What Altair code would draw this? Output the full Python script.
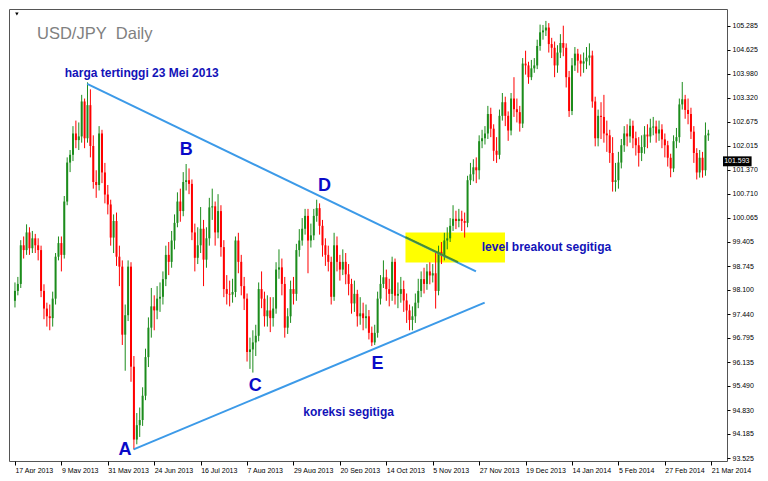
import altair as alt
import pandas as pd

# ---------------- data ----------------
date_labels = ["17 Apr 2013", "9 May 2013", "31 May 2013", "24 Jun 2013", "16 Jul 2013",
               "7 Aug 2013", "29 Aug 2013", "20 Sep 2013", "14 Oct 2013", "5 Nov 2013",
               "27 Nov 2013", "19 Dec 2013", "14 Jan 2014", "5 Feb 2014", "27 Feb 2014",
               "21 Mar 2014"]
label_step = 16

first_open = 97.80
close = [
    98.07, 98.26, 99.31, 99.18, 99.66, 99.23, 99.50, 99.31, 99.18, 98.07,
    97.59, 97.38, 97.33, 97.86, 99.00, 99.37, 99.05, 100.50, 101.56, 101.77,
    102.35, 102.17, 102.27, 103.22, 102.22, 103.12, 102.01, 101.03, 100.95, 102.35,
    101.29, 100.69, 100.42, 99.52, 99.97, 99.00, 98.73, 96.88, 97.41, 98.73,
    96.01, 94.03, 94.42, 94.56, 95.22, 96.27, 97.07, 97.65, 97.54, 97.86,
    97.91, 98.39, 99.05, 98.86, 99.44, 99.92, 100.50, 100.24, 101.03, 101.08,
    100.98, 99.66, 98.97, 99.31, 99.76, 98.92, 99.50, 100.34, 100.37, 99.66,
    100.24, 99.26, 98.12, 97.99, 97.97, 98.04, 99.44, 98.86, 98.20, 97.86,
    96.41, 96.48, 96.67, 96.85, 98.12, 97.86, 97.38, 97.54, 97.33, 97.59,
    98.65, 98.71, 98.26, 97.07, 97.38, 98.12, 97.99, 99.18, 99.44, 99.76,
    100.11, 99.44, 99.58, 100.11, 100.32, 99.84, 99.31, 99.05, 98.86, 97.91,
    99.31, 98.86, 98.65, 98.86, 98.52, 98.26, 97.73, 97.99, 97.38, 97.46,
    97.33, 97.38, 96.93, 96.67, 96.93, 97.86, 98.26, 98.44, 98.12, 97.99,
    98.86, 97.94, 97.99, 98.12, 97.81, 97.54, 97.28, 97.38, 97.75, 98.07,
    98.39, 98.26, 98.60, 98.49, 98.55, 98.07, 99.13, 99.02, 99.44, 99.50,
    99.84, 100.03, 99.97, 100.03, 99.97, 99.92, 101.08, 101.24, 101.43, 101.35,
    102.14, 102.22, 102.35, 102.88, 102.48, 101.88, 101.77, 102.83, 103.20, 102.83,
    102.43, 103.30, 103.01, 102.93, 102.62, 104.25, 104.20, 103.88, 104.12, 104.20,
    104.73, 105.10, 105.15, 105.23, 104.78, 104.68, 104.20, 104.55, 104.81, 104.68,
    103.88, 102.96, 104.20, 104.52, 104.33, 104.25, 104.31, 104.41, 104.47, 103.22,
    102.22, 102.83, 102.80, 102.35, 102.30, 101.82, 101.03, 101.08, 101.56, 102.03,
    102.35, 102.27, 102.56, 102.22, 102.03, 101.82, 101.98, 102.32, 102.27, 102.51,
    102.54, 102.35, 102.46, 102.19, 102.03, 101.69, 101.40, 102.14, 102.25, 103.14,
    103.28, 102.99, 102.88, 102.40, 101.82, 101.29, 101.69, 101.35, 102.30, 102.35,
]
high = [
    98.30, 98.45, 99.45, 99.55, 99.88, 99.80, 99.70, 99.62, 99.50, 99.30,
    98.25, 97.75, 97.70, 98.05, 99.10, 99.55, 99.55, 100.65, 101.70, 101.90,
    102.55, 102.70, 102.65, 103.40, 103.30, 103.74, 103.55, 102.30, 101.35, 102.55,
    102.45, 101.55, 100.95, 100.55, 100.15, 100.20, 99.30, 98.90, 97.70, 98.90,
    98.85, 96.30, 94.75, 94.90, 95.45, 96.50, 97.35, 98.15, 97.95, 98.20,
    98.30, 98.60, 99.30, 99.40, 99.70, 100.15, 100.75, 100.85, 101.30, 101.52,
    101.40, 101.10, 99.90, 99.80, 100.35, 100.00, 99.80, 100.60, 100.85, 100.50,
    100.70, 100.40, 99.45, 98.50, 98.35, 98.40, 99.55, 99.65, 99.05, 98.45,
    98.00, 96.80, 97.00, 97.15, 98.30, 98.60, 98.05, 97.95, 97.90, 97.90,
    98.85, 99.20, 98.95, 98.45, 97.60, 98.35, 98.45, 99.35, 99.75, 100.05,
    100.30, 100.30, 99.90, 100.30, 100.55, 100.45, 100.00, 99.50, 99.30, 99.00,
    99.65, 99.55, 99.05, 99.20, 99.10, 98.80, 98.40, 98.35, 98.10, 97.90,
    97.75, 97.70, 97.55, 97.10, 97.15, 98.05, 98.50, 98.90, 98.65, 98.40,
    99.00, 98.95, 98.30, 98.45, 98.35, 98.00, 97.70, 97.65, 98.00, 98.40,
    98.60, 98.70, 98.80, 98.85, 98.80, 99.15, 99.30, 99.40, 99.65, 99.80,
    100.05, 100.40, 100.25, 100.30, 100.25, 100.20, 101.20, 101.55, 101.65, 101.70,
    102.30, 102.45, 102.55, 103.10, 103.05, 102.60, 102.25, 103.00, 103.45, 103.35,
    102.95, 103.45, 103.88, 103.30, 103.10, 104.40, 104.60, 104.30, 104.35, 104.40,
    104.90, 105.31, 105.30, 105.41, 105.35, 104.95, 104.85, 104.75, 105.05, 105.28,
    104.80, 104.05, 104.40, 104.70, 104.65, 104.50, 104.55, 104.70, 104.80, 104.60,
    103.35, 103.00, 103.20, 103.40, 102.70, 102.45, 102.25, 101.55, 101.85, 102.20,
    102.55, 102.60, 102.75, 102.70, 102.40, 102.25, 102.30, 102.55, 102.60, 102.75,
    102.80, 102.70, 102.70, 102.60, 102.35, 102.15, 101.80, 102.30, 102.50, 103.30,
    103.75, 103.40, 103.30, 103.05, 102.55, 101.95, 101.90, 101.85, 102.65, 102.45,
]
low = [
    97.62, 97.95, 98.15, 98.95, 99.05, 99.05, 99.10, 99.10, 98.90, 97.90,
    97.30, 97.10, 97.00, 97.10, 97.70, 98.90, 98.60, 98.95, 100.40, 101.30,
    101.60, 101.95, 101.90, 102.10, 101.95, 102.10, 101.70, 100.85, 100.60, 100.80,
    101.00, 100.45, 100.15, 99.30, 99.10, 98.75, 98.20, 96.60, 95.90, 97.25,
    95.60, 93.76, 93.90, 94.10, 94.40, 95.10, 96.00, 96.80, 97.00, 97.30,
    97.50, 97.70, 98.20, 98.50, 98.70, 99.20, 99.80, 99.95, 100.10, 100.80,
    100.70, 99.45, 98.60, 98.80, 99.10, 98.20, 98.70, 99.30, 100.00, 99.30,
    99.50, 99.00, 97.90, 97.70, 97.65, 97.75, 97.90, 98.55, 97.95, 97.55,
    96.15, 95.95, 95.85, 96.30, 96.70, 97.60, 97.10, 97.10, 96.95, 97.10,
    97.45, 98.40, 97.95, 96.80, 96.90, 97.20, 97.70, 97.80, 99.00, 99.30,
    99.60, 98.55, 99.25, 99.45, 99.95, 99.60, 99.00, 98.75, 98.60, 97.70,
    97.80, 98.60, 98.35, 98.50, 98.25, 97.95, 97.45, 97.50, 97.10, 97.15,
    97.00, 97.05, 96.75, 96.57, 96.60, 96.80, 97.70, 98.15, 97.80, 97.65,
    97.80, 97.70, 97.60, 97.75, 97.50, 97.20, 97.00, 97.00, 97.20, 97.60,
    97.90, 98.00, 98.10, 98.25, 98.30, 97.59, 97.95, 98.80, 98.90, 99.20,
    99.40, 99.70, 99.75, 99.80, 99.70, 99.52, 99.80, 100.95, 101.05, 101.00,
    101.10, 101.95, 102.05, 102.20, 102.25, 101.60, 101.55, 101.65, 102.70, 102.55,
    102.15, 102.30, 102.80, 102.65, 102.40, 102.50, 103.95, 103.70, 103.80, 104.00,
    104.10, 104.60, 104.90, 105.00, 104.55, 104.40, 103.88, 104.00, 104.40, 104.45,
    103.60, 102.80, 102.85, 104.05, 104.00, 103.90, 104.00, 104.10, 104.20, 103.05,
    102.00, 102.00, 102.20, 102.10, 101.85, 101.55, 100.77, 100.77, 100.85, 101.40,
    101.85, 102.00, 102.10, 101.95, 101.75, 101.45, 101.60, 101.80, 101.95, 102.10,
    102.30, 102.10, 102.15, 101.95, 101.70, 101.45, 101.16, 101.30, 101.95, 102.10,
    103.00, 102.75, 102.60, 102.20, 101.55, 101.10, 101.15, 101.15, 101.20, 102.15,
]
y_ticks = [93.525, 94.185, 94.830, 95.490, 96.135, 96.795, 97.440, 98.100, 98.745,
           99.405, 100.065, 100.710, 101.370, 102.015, 102.675, 103.320, 103.980,
           104.625, 105.285]

# triangle trend lines (bar index, price)
tl_x1 = [24.9, 40.9]
tl_y1 = [103.70, 93.76]
tl_x2 = [158.9, 161.9]
tl_y2 = [98.60, 97.75]
# part of upper line inside the yellow box
seg_x1 = [134.6]
seg_y1 = [99.53]
seg_x2 = [152.7]
seg_y2 = [98.85]
# yellow breakout box
box_x1 = [134.6]
box_x2 = [168.9]
box_y1 = [99.66]
box_y2 = [98.84]

letter_text = ["A", "B", "C", "D", "E"]
letter_x = [37.9, 59.0, 82.8, 106.7, 125.0]
letter_y = [93.74, 101.89, 95.49, 100.91, 96.09]

note_text = ["harga tertinggi 23 Mei 2013", "level breakout segitiga", "koreksi segitiga"]
note_x = [43.7, 183.2, 115.0]
note_y = [103.99, 99.26, 94.79]

title_text = ["USD/JPY\u00a0 Daily"]
title_x = [7.6]
title_y = [105.05]

last_price = 101.593

# ---------------- frames ----------------
opens = [first_open] + close[:-1]
n = len(close)
candles = pd.DataFrame({"i": list(range(n)), "open": opens, "close": close,
                        "high": high, "low": low})
candles["dir"] = ["up" if c >= o else "down" for o, c in zip(opens, close)]

lines_df = pd.DataFrame({"x1": tl_x1, "y1": tl_y1, "x2": tl_x2, "y2": tl_y2})
seg_df = pd.DataFrame({"x1": seg_x1, "y1": seg_y1, "x2": seg_x2, "y2": seg_y2})
box_df = pd.DataFrame({"x1": box_x1, "x2": box_x2, "y1": box_y1, "y2": box_y2})
letters_df = pd.DataFrame({"t": letter_text, "x": letter_x, "y": letter_y})
notes_df = pd.DataFrame({"t": note_text, "x": note_x, "y": note_y})
title_df = pd.DataFrame({"t": title_text, "x": title_x, "y": title_y})
tri_df = pd.DataFrame({"x": [0.66], "y": [105.60]})
price_df = pd.DataFrame({"x1": [244.05], "x2": [253.9], "y1": [last_price - 0.135],
                         "y2": [last_price + 0.135], "tx": [244.45], "p": [last_price],
                         "t": [f"{last_price:.3f}"]})

X_DOM = [-0.33, 243.7]
Y_DOM = [93.446, 105.734]
xs = alt.Scale(domain=X_DOM, nice=False, zero=False)
ys = alt.Scale(domain=Y_DOM, nice=False, zero=False)

label_js = "[" + ",".join("'" + d + "'" for d in date_labels) + "]"
x_axis = alt.Axis(values=[k * label_step for k in range(len(date_labels))],
                  labelExpr=label_js + "[round(datum.value/" + str(label_step) + ")]",
                  title=None, grid=False, domain=False, ticks=True, tickSize=4,
                  tickColor="#000000", labelAlign="left", labelBaseline="top",
                  labelPadding=1, labelFont="Liberation Sans",
                  labelFontSize=7, labelColor="#000000", labelFlush=False,
                  labelOverlap=False)
y_axis = alt.Axis(orient="right", values=y_ticks, format=".3f", title=None, grid=False,
                  domain=False, tickSize=3, tickColor="#000000", labelPadding=2,
                  labelFont="Liberation Sans", labelFontSize=7, labelColor="#000000",
                  labelFlush=False, labelOverlap=False)


def X(field):
    return alt.X(field, scale=xs, axis=x_axis)


def Y(field):
    return alt.Y(field, scale=ys, axis=y_axis)


col = alt.Color("dir:N", scale=alt.Scale(domain=["up", "down"],
                                         range=["#1c8c1c", "#ff0000"]), legend=None)

box = alt.Chart(box_df).mark_rect(color="#ffff00").encode(
    x=X("x1:Q"), x2="x2:Q", y=Y("y1:Q"), y2="y2:Q")

wicks = alt.Chart(candles).mark_rule(strokeWidth=1).encode(
    x=X("i:Q"), y=Y("low:Q"), y2="high:Q", color=col)

bodies = alt.Chart(candles).mark_bar(size=2).encode(
    x=X("i:Q"), y=Y("open:Q"), y2="close:Q", color=col)

tlines = alt.Chart(lines_df).mark_rule(strokeWidth=2, color="#3c9ae8").encode(
    x=X("x1:Q"), x2="x2:Q", y=Y("y1:Q"), y2="y2:Q")

seg = alt.Chart(seg_df).mark_rule(strokeWidth=2, color="#4a8f2c").encode(
    x=X("x1:Q"), x2="x2:Q", y=Y("y1:Q"), y2="y2:Q")

letters = alt.Chart(letters_df).mark_text(font="Liberation Sans", fontSize=18,
                                          fontWeight="bold", color="#0a0ac8",
                                          align="center", baseline="middle").encode(
    x=X("x:Q"), y=Y("y:Q"), text="t:N")

notes = alt.Chart(notes_df).mark_text(font="Liberation Sans", fontSize=12,
                                      fontWeight="bold", color="#1212b8",
                                      align="center", baseline="middle").encode(
    x=X("x:Q"), y=Y("y:Q"), text="t:N")

title = alt.Chart(title_df).mark_text(font="Liberation Sans", fontSize=16.5,
                                      color="#808080", align="left",
                                      baseline="middle").encode(
    x=X("x:Q"), y=Y("y:Q"), text="t:N")

tri = alt.Chart(tri_df).mark_point(shape="triangle-down", size=12, filled=True,
                                   color="#000000", opacity=1).encode(
    x=X("x:Q"), y=Y("y:Q"))

pbox = alt.Chart(price_df).mark_rect(color="#000000").encode(
    x=X("x1:Q"), x2="x2:Q", y=Y("y1:Q"), y2="y2:Q")

ptext = alt.Chart(price_df).mark_text(font="Liberation Sans", fontSize=7,
                                      color="#ffffff", align="left",
                                      baseline="middle").encode(
    x=X("tx:Q"), y=Y("p:Q"), text="t:N")

chart = alt.layer(box, wicks, bodies, tlines, seg, letters, notes, title, tri,
                  pbox, ptext).properties(
    width=718, height=452,
    padding={"left": 1, "top": 1, "right": 0, "bottom": 0},
    background="#ffffff",
).configure_view(stroke="#555555", strokeWidth=1)

chart.save("out.html", embed_options={"renderer": "svg", "actions": False})
